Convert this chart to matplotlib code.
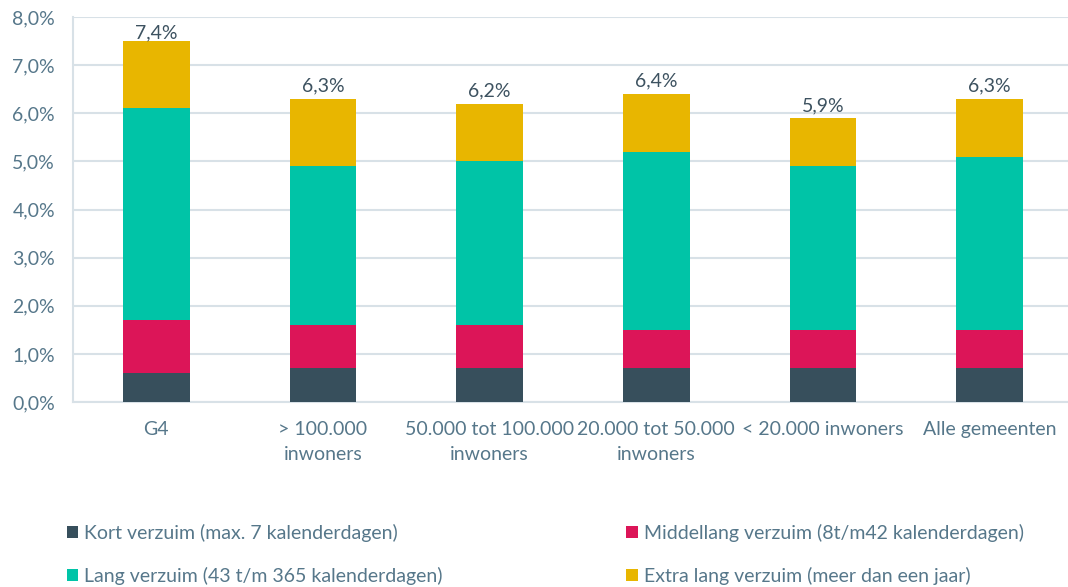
import numpy as np
import matplotlib
matplotlib.use('Agg')
import matplotlib.pyplot as plt
from matplotlib.patches import Patch

plt.rcParams['font.family'] = ['Lato', 'DejaVu Sans']

# Data (percentages)
categories = ['G4', '> 100.000\ninwoners', '50.000 tot 100.000\ninwoners',
              '20.000 tot 50.000\ninwoners', '< 20.000 inwoners', 'Alle gemeenten']
kort = [0.6, 0.7, 0.7, 0.7, 0.7, 0.7]
middellang = [1.1, 0.9, 0.9, 0.8, 0.8, 0.8]
lang = [4.4, 3.3, 3.4, 3.7, 3.4, 3.6]
extra_lang = [1.4, 1.4, 1.2, 1.2, 1.0, 1.2]
totals = [7.4, 6.3, 6.2, 6.4, 5.9, 6.3]

series_names = ['Kort verzuim (max. 7 kalenderdagen)',
                'Middellang verzuim (8t/m42 kalenderdagen)',
                'Lang verzuim (43 t/m 365 kalenderdagen)',
                'Extra lang verzuim (meer dan een jaar)']
colors = ['#374f5c', '#dc1558', '#00c4a7', '#e8b600']

tick_color = '#56778a'
label_color = '#3d5260'
grid_color = '#d8e1e7'
fs = 14

fig = plt.figure(figsize=(10.68, 5.87), dpi=100)
ax = fig.add_axes([73 / 1068, 1 - 402 / 587, 1000 / 1068, 385 / 587])

x = np.arange(len(categories))
bottom = np.zeros(len(categories))
handles = []
for vals, name, col in zip([kort, middellang, lang, extra_lang], series_names, colors):
    ax.bar(x, vals, width=0.4, bottom=bottom, color=col, zorder=3)
    bottom += np.array(vals)
    handles.append(Patch(facecolor=col, label=name))

for xi, t in zip(x, totals):
    ax.annotate(f'{t:.1f}%'.replace('.', ','), (xi, t), xytext=(0, 3),
                textcoords='offset points', ha='center', va='bottom',
                fontsize=fs, color=label_color, zorder=4)

ax.set_xlim(-0.5, 5.5)
ax.set_ylim(0, 8)
ax.set_yticks(range(0, 9))
ax.set_yticklabels([f'{v},0%' for v in range(0, 9)])
ax.set_xticks(x)
ax.set_xticklabels(categories)
ax.tick_params(axis='both', length=0, colors=tick_color, labelsize=fs)
ax.tick_params(axis='x', pad=14)
ax.tick_params(axis='y', pad=13)
for lbl in ax.get_xticklabels():
    lbl.set_linespacing(1.55)

ax.grid(axis='y', color=grid_color, linewidth=1.5, zorder=0)
for s in ['top', 'right']:
    ax.spines[s].set_visible(False)
for s in ['left', 'bottom']:
    ax.spines[s].set_color(grid_color)
    ax.spines[s].set_linewidth(1.5)

# legend fills column-wise, reorder so rows read Kort/Middellang, Lang/Extra lang
order = [0, 2, 1, 3]
fig.legend(handles=[handles[i] for i in order], loc='upper left',
           bbox_to_anchor=(49 / 1068, 1 - 506 / 587),
           ncol=2, frameon=False, fontsize=fs, labelcolor=tick_color,
           handlelength=0.6, handleheight=0.6, handletextpad=0.3,
           columnspacing=9.45, labelspacing=1.3)

fig.savefig('out.png', dpi=100)
